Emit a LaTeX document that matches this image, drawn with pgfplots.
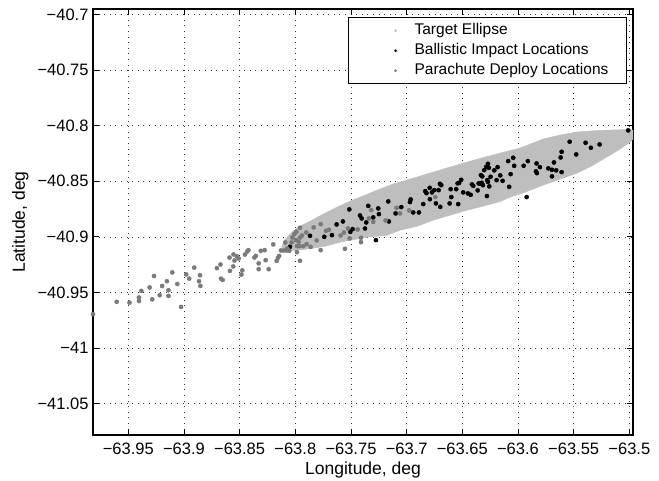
\documentclass[border=0pt]{standalone}
\usepackage{fontspec}
\setmainfont{Liberation Sans}
\usepackage{pgfplots}
\pgfplotsset{compat=1.18}
\definecolor{ellgray}{RGB}{190,190,190}
\definecolor{pargray}{RGB}{122,122,122}
\begin{document}
\begin{tikzpicture}
\path[use as bounding box] (-93pt,-46pt) rectangle (566pt,435pt);
\begin{axis}[
  at={(0pt,0pt)}, anchor=south west,
  scale only axis, width=540pt, height=426pt,
  xmin=-63.9817, xmax=-63.4967, ymin=-41.078, ymax=-40.6952,
  xtick={-63.95,-63.9,-63.85,-63.8,-63.75,-63.7,-63.65,-63.6,-63.55,-63.5},
  xticklabels={−63.95,−63.9,−63.85,−63.8,−63.75,−63.7,−63.65,−63.6,−63.55,−63.5},
  ytick={-41.05,-41,-40.95,-40.9,-40.85,-40.8,-40.75,-40.7},
  yticklabels={−41.05,−41,−40.95,−40.9,−40.85,−40.8,−40.75,−40.7},
  tick label style={font=\fontsize{16.5}{19}\selectfont},
  xticklabel style={yshift=-4.5pt},
  yticklabel style={xshift=-1pt},
  tick align=inside, major tick length=6pt,
  tick style={line width=0.9pt, black},
  axis line style={line width=1.4pt},
  grid=major,
  major grid style={line width=0.8pt, dash pattern=on 0.8pt off 4.8pt, black!80},
  xlabel={Longitude, deg}, ylabel={Latitude, deg},
  every axis x label/.style={at={(axis description cs:0.5,0)}, anchor=base, yshift=-40pt, font=\fontsize{17.5}{20}\selectfont},
  every axis y label/.style={at={([xshift=-68pt]axis description cs:0,0.5)}, rotate=90, anchor=base, font=\fontsize{17.5}{20}\selectfont},
  legend style={at={(0.989,0.981)}, anchor=north east, draw=black, line width=1.2pt,
    font=\fontsize{15.5}{18}\selectfont, inner xsep=14pt, inner ysep=3pt,
    nodes={text height=11.5pt, text depth=3.5pt, inner ysep=2.5pt, inner xsep=4pt}},
  legend cell align=left,
]
\addplot[fill=ellgray, draw=ellgray, line width=0.5pt,
  legend image code/.code={\path[draw=none,fill=none] (0pt,0pt) -- (48pt,0pt); \fill[ellgray,draw=none] (33pt,0pt) circle (1.5pt);}]
  table {
x y
-63.8120 -40.9093
-63.8102 -40.9039
-63.8066 -40.8994
-63.8021 -40.8949
-63.7958 -40.8904
-63.7868 -40.8859
-63.7751 -40.8796
-63.7626 -40.8733
-63.7509 -40.8679
-63.7374 -40.8625
-63.7266 -40.8580
-63.7123 -40.8526
-63.6970 -40.8481
-63.6763 -40.8418
-63.6611 -40.8373
-63.6458 -40.8328
-63.6296 -40.8283
-63.6162 -40.8247
-63.5982 -40.8202
-63.5775 -40.8121
-63.5623 -40.8085
-63.5470 -40.8058
-63.5308 -40.8045
-63.5174 -40.8040
-63.5039 -40.8036
-63.4967 -40.8040
-63.4940 -40.8067
-63.4958 -40.8112
-63.4994 -40.8148
-63.5084 -40.8211
-63.5174 -40.8265
-63.5326 -40.8355
-63.5470 -40.8427
-63.5623 -40.8481
-63.5775 -40.8535
-63.5937 -40.8598
-63.6072 -40.8643
-63.6162 -40.8683
-63.6314 -40.8724
-63.6458 -40.8760
-63.6611 -40.8805
-63.6763 -40.8850
-63.6907 -40.8904
-63.7060 -40.8940
-63.7177 -40.8985
-63.7356 -40.9003
-63.7509 -40.9030
-63.7599 -40.9048
-63.7733 -40.9084
-63.7868 -40.9106
-63.8003 -40.9120
-63.8093 -40.9120
} -- cycle;
\addlegendentry{Target Ellipse}
\addplot[only marks, mark=*, mark size=2.1pt, black,
  legend image code/.code={\path[draw=none,fill=none] (0pt,0pt) -- (48pt,0pt); \fill[black,draw=none] (33pt,0pt) circle (1.5pt);}] table {
x y
-63.8048 -40.9089
-63.7868 -40.8990
-63.7740 -40.8999
-63.7671 -40.8984
-63.7629 -40.8888
-63.7572 -40.8861
-63.7515 -40.8753
-63.7506 -40.8954
-63.7485 -40.8930
-63.7419 -40.8807
-63.7404 -40.8834
-63.7363 -40.8870
-63.7374 -40.8924
-63.7345 -40.8721
-63.7300 -40.8825
-63.7255 -40.8744
-63.7249 -40.8795
-63.7276 -40.9029
-63.7165 -40.8681
-63.7159 -40.8861
-63.7099 -40.8789
-63.6964 -40.8663
-63.6970 -40.8687
-63.7048 -40.8732
-63.6941 -40.8780
-63.6890 -40.8780
-63.6851 -40.8705
-63.6833 -40.8589
-63.6822 -40.8607
-63.6793 -40.8559
-63.6791 -40.8661
-63.6773 -40.8600
-63.6752 -40.8580
-63.6737 -40.8699
-63.6713 -40.8580
-63.6701 -40.8523
-63.6689 -40.8535
-63.6698 -40.8730
-63.6614 -40.8699
-63.6605 -40.8571
-63.6599 -40.8642
-63.6555 -40.8571
-63.6542 -40.8519
-63.6528 -40.8514
-63.6510 -40.8487
-63.6537 -40.8705
-63.6492 -40.8600
-63.6450 -40.8609
-63.6425 -40.8622
-63.6414 -40.8528
-63.6402 -40.8541
-63.6362 -40.8582
-63.6353 -40.8519
-63.6342 -40.8523
-63.6326 -40.8514
-63.6315 -40.8535
-63.6333 -40.8445
-63.6321 -40.8456
-63.6303 -40.8400
-63.6285 -40.8370
-63.6270 -40.8343
-63.6261 -40.8379
-63.6276 -40.8490
-63.6270 -40.8505
-63.6279 -40.8633
-63.6246 -40.8460
-63.6258 -40.8546
-63.6213 -40.8402
-63.6192 -40.8490
-63.6183 -40.8373
-63.6159 -40.8447
-63.6138 -40.8496
-63.6088 -40.8319
-63.6079 -40.8550
-63.6043 -40.8289
-63.6034 -40.8361
-63.6066 -40.8436
-63.5949 -40.8361
-63.5911 -40.8319
-63.5833 -40.8340
-63.5803 -40.8373
-63.5839 -40.8411
-63.5830 -40.8427
-63.5922 -40.8642
-63.5728 -40.8384
-63.5695 -40.8397
-63.5657 -40.8402
-63.5695 -40.8456
-63.5677 -40.8331
-63.5617 -40.8286
-63.5608 -40.8235
-63.5608 -40.8418
-63.5536 -40.8145
-63.5477 -40.8259
-63.5393 -40.8154
-63.5345 -40.8199
-63.5267 -40.8169
-63.5010 -40.8043
};
\addlegendentry{Ballistic Impact Locations}
\addplot[only marks, mark=*, mark size=2.1pt, pargray,
  legend image code/.code={\path[draw=none,fill=none] (0pt,0pt) -- (48pt,0pt); \fill[pargray,draw=none] (33pt,0pt) circle (1.5pt);}] table {
x y
-63.9817 -40.9694
-63.9604 -40.9584
-63.9489 -40.9591
-63.9404 -40.9544
-63.9404 -40.9576
-63.9383 -40.9485
-63.9308 -40.9454
-63.9285 -40.9561
-63.9269 -40.9351
-63.9218 -40.9524
-63.9196 -40.9441
-63.9153 -40.9398
-63.9139 -40.9479
-63.9139 -40.9530
-63.9105 -40.9319
-63.9060 -40.9423
-63.9026 -40.9629
-63.8980 -40.9337
-63.8953 -40.9375
-63.8908 -40.9276
-63.8865 -40.9398
-63.8856 -40.9344
-63.8852 -40.9440
-63.8704 -40.9281
-63.8672 -40.9248
-63.8668 -40.9375
-63.8652 -40.9387
-63.8591 -40.9186
-63.8587 -40.9305
-63.8555 -40.9157
-63.8557 -40.9265
-63.8546 -40.9212
-63.8526 -40.9173
-63.8508 -40.9194
-63.8484 -40.9339
-63.8476 -40.9301
-63.8452 -40.9159
-63.8432 -40.9131
-63.8421 -40.9119
-63.8367 -40.9185
-63.8355 -40.9171
-63.8329 -40.9238
-63.8329 -40.9290
-63.8310 -40.9125
-63.8275 -40.9119
-63.8266 -40.9209
-63.8239 -40.9290
-63.8198 -40.9067
-63.8167 -40.9215
-63.8156 -40.9188
-63.8145 -40.9171
-63.8129 -40.9122
-63.8105 -40.9122
-63.8078 -40.9122
-63.8054 -40.9125
-63.8072 -40.9104
-63.8090 -40.9050
-63.8033 -40.9050
-63.8027 -40.9005
-63.8009 -40.8975
-63.7991 -40.8954
-63.7985 -40.9083
-63.7985 -40.9137
-63.7970 -40.9044
-63.7958 -40.8918
-63.7940 -40.8987
-63.7958 -40.9215
-63.7902 -40.8960
-63.7898 -40.9065
-63.7835 -40.8915
-63.7808 -40.9032
-63.7772 -40.8885
-63.7698 -40.8936
-63.7725 -40.8945
-63.7593 -40.8987
-63.7563 -40.8960
-63.7527 -40.8924
-63.7512 -40.9014
-63.7440 -40.8933
-63.7318 -40.8759
-63.7339 -40.8834
-63.7300 -40.8865
-63.7410 -40.9047
-63.7410 -40.9008
-63.7189 -40.8852
-63.7090 -40.8739
-63.7060 -40.8789
-63.6979 -40.8762
-63.7862 -40.9089
-63.7772 -40.9119
-63.7554 -40.9107
-63.7958 -40.9005
-63.7994 -40.9029
-63.7964 -40.9083
-63.7929 -40.9083
-63.6743 -40.8642
};
\addlegendentry{Parachute Deploy Locations}
\end{axis}
\end{tikzpicture}
\end{document}
